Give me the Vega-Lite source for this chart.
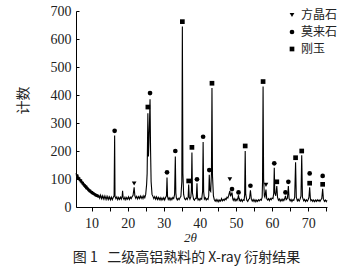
{
  "$schema": "https://vega.github.io/schema/vega-lite/v6.json",
  "width": 251,
  "height": 196,
  "autosize": {"type": "none"},
  "padding": {"left": 76, "top": 11, "right": 29, "bottom": 65},
  "background": "white",
  "config": {
    "view": {"stroke": null},
    "axis": {"grid": false, "domainColor": "black", "tickColor": "black", "labelColor": "#222", "labelFont": "Liberation Serif", "labelFontSize": 14, "titleColor": "#222", "domainWidth": 1}
  },
  "title": {"text": "图 1\u00a0\u00a0 二级高铝熟料的 X-ray 衍射结果", "orient": "bottom", "anchor": "middle", "font": "Noto Sans CJK SC", "fontSize": 14, "fontWeight": "normal", "color": "#222", "offset": 7, "dx": -15},
  "datasets": {
    "trace": [
      {"x":5.75,"y":122},{"x":5.9,"y":104},{"x":6.0,"y":118},{"x":6.15,"y":100},{"x":6.25,"y":116},{"x":6.4,"y":96},{"x":6.5,"y":108},{"x":6.65,"y":92},{"x":6.75,"y":106},{"x":6.9,"y":88},{"x":7.0,"y":100},{"x":7.15,"y":84},{"x":7.25,"y":99},{"x":7.4,"y":80},{"x":7.5,"y":92},{"x":7.65,"y":76},{"x":7.75,"y":90},{"x":7.9,"y":72},{"x":8.0,"y":85},{"x":8.15,"y":68},{"x":8.25,"y":82},{"x":8.4,"y":64},{"x":8.5,"y":78},{"x":8.65,"y":62},{"x":8.75,"y":76},{"x":8.9,"y":58},{"x":9.0,"y":71},{"x":9.15,"y":55},{"x":9.25,"y":68},{"x":9.4,"y":52},{"x":9.5,"y":64},{"x":9.65,"y":50},{"x":9.75,"y":62},{"x":9.9,"y":47},{"x":10.0,"y":59},{"x":10.15,"y":45},{"x":10.25,"y":57},{"x":10.4,"y":43},{"x":10.5,"y":54},{"x":10.65,"y":41},{"x":10.75,"y":52},{"x":10.9,"y":39},{"x":11.0,"y":50},{"x":11.15,"y":37},{"x":11.25,"y":48},{"x":11.4,"y":36},{"x":11.5,"y":46},{"x":11.65,"y":34},{"x":11.75,"y":45},{"x":11.9,"y":33},{"x":12.0,"y":43},{"x":12.25,"y":32},{"x":12.5,"y":42},{"x":12.75,"y":30},{"x":13.0,"y":40},{"x":13.25,"y":29},{"x":13.5,"y":39},{"x":13.75,"y":28},{"x":14.0,"y":38},{"x":14.25,"y":27},{"x":14.5,"y":37},{"x":14.75,"y":27},{"x":15.0,"y":36},{"x":15.25,"y":26},{"x":15.5,"y":35},{"x":15.75,"y":26},{"x":16.0,"y":34},{"x":16.25,"y":40},{"x":16.4,"y":255},{"x":16.5,"y":38},{"x":16.75,"y":30},{"x":17.0,"y":36},{"x":17.25,"y":26},{"x":17.5,"y":34},{"x":17.75,"y":27},{"x":18.0,"y":35},{"x":18.25,"y":28},{"x":18.5,"y":40},{"x":18.6,"y":58},{"x":18.75,"y":33},{"x":19.0,"y":27},{"x":19.25,"y":35},{"x":19.5,"y":26},{"x":19.75,"y":34},{"x":20.0,"y":28},{"x":20.25,"y":36},{"x":20.5,"y":27},{"x":20.75,"y":35},{"x":21.0,"y":30},{"x":21.25,"y":37},{"x":21.5,"y":42},{"x":21.8,"y":70},{"x":22.0,"y":40},{"x":22.25,"y":31},{"x":22.5,"y":38},{"x":22.75,"y":29},{"x":23.0,"y":37},{"x":23.25,"y":30},{"x":23.5,"y":39},{"x":23.75,"y":31},{"x":24.0,"y":38},{"x":24.25,"y":30},{"x":24.5,"y":40},{"x":24.75,"y":33},{"x":25.0,"y":45},{"x":25.25,"y":80},{"x":25.4,"y":120},{"x":25.6,"y":335},{"x":25.75,"y":180},{"x":25.9,"y":230},{"x":26.05,"y":300},{"x":26.2,"y":385},{"x":26.35,"y":200},{"x":26.5,"y":90},{"x":26.75,"y":45},{"x":27.0,"y":38},{"x":27.25,"y":30},{"x":27.5,"y":37},{"x":27.75,"y":28},{"x":28.0,"y":36},{"x":28.25,"y":27},{"x":28.5,"y":34},{"x":28.75,"y":26},{"x":29.0,"y":33},{"x":29.25,"y":25},{"x":29.5,"y":32},{"x":29.75,"y":26},{"x":30.0,"y":33},{"x":30.25,"y":25},{"x":30.5,"y":34},{"x":30.75,"y":40},{"x":30.9,"y":105},{"x":31.05,"y":38},{"x":31.25,"y":27},{"x":31.5,"y":33},{"x":31.75,"y":25},{"x":32.0,"y":32},{"x":32.25,"y":26},{"x":32.5,"y":34},{"x":32.75,"y":30},{"x":33.0,"y":45},{"x":33.2,"y":180},{"x":33.35,"y":50},{"x":33.5,"y":32},{"x":33.75,"y":25},{"x":34.0,"y":31},{"x":34.25,"y":26},{"x":34.5,"y":33},{"x":34.75,"y":38},{"x":35.0,"y":90},{"x":35.15,"y":645},{"x":35.3,"y":120},{"x":35.5,"y":45},{"x":35.75,"y":30},{"x":36.0,"y":26},{"x":36.25,"y":32},{"x":36.5,"y":27},{"x":36.75,"y":35},{"x":36.9,"y":80},{"x":37.05,"y":35},{"x":37.25,"y":28},{"x":37.5,"y":36},{"x":37.65,"y":60},{"x":37.8,"y":195},{"x":37.95,"y":50},{"x":38.25,"y":28},{"x":38.5,"y":24},{"x":38.75,"y":31},{"x":39.0,"y":30},{"x":39.2,"y":85},{"x":39.35,"y":32},{"x":39.5,"y":25},{"x":39.75,"y":30},{"x":40.0,"y":24},{"x":40.25,"y":31},{"x":40.5,"y":28},{"x":40.75,"y":55},{"x":40.9,"y":232},{"x":41.05,"y":55},{"x":41.25,"y":28},{"x":41.5,"y":33},{"x":41.75,"y":25},{"x":42.0,"y":30},{"x":42.25,"y":27},{"x":42.45,"y":40},{"x":42.6,"y":115},{"x":42.75,"y":60},{"x":43.0,"y":55},{"x":43.2,"y":120},{"x":43.35,"y":425},{"x":43.5,"y":110},{"x":43.75,"y":40},{"x":44.0,"y":26},{"x":44.25,"y":21},{"x":44.5,"y":27},{"x":44.75,"y":20},{"x":45.0,"y":26},{"x":45.25,"y":19},{"x":45.5,"y":25},{"x":45.75,"y":21},{"x":46.0,"y":30},{"x":46.25,"y":22},{"x":46.5,"y":27},{"x":46.75,"y":23},{"x":47.0,"y":30},{"x":47.25,"y":26},{"x":47.5,"y":35},{"x":47.75,"y":32},{"x":48.0,"y":42},{"x":48.3,"y":58},{"x":48.5,"y":38},{"x":48.7,"y":45},{"x":48.9,"y":52},{"x":49.1,"y":30},{"x":49.25,"y":24},{"x":49.5,"y":30},{"x":49.75,"y":22},{"x":50.0,"y":28},{"x":50.25,"y":23},{"x":50.5,"y":30},{"x":50.7,"y":42},{"x":50.9,"y":25},{"x":51.0,"y":28},{"x":51.25,"y":21},{"x":51.5,"y":27},{"x":51.75,"y":20},{"x":52.0,"y":26},{"x":52.25,"y":24},{"x":52.4,"y":45},{"x":52.55,"y":200},{"x":52.7,"y":45},{"x":53.0,"y":24},{"x":53.25,"y":20},{"x":53.5,"y":27},{"x":53.75,"y":30},{"x":54.0,"y":60},{"x":54.25,"y":28},{"x":54.5,"y":21},{"x":54.75,"y":27},{"x":55.0,"y":20},{"x":55.25,"y":26},{"x":55.5,"y":19},{"x":55.75,"y":25},{"x":56.0,"y":20},{"x":56.25,"y":26},{"x":56.5,"y":22},{"x":56.75,"y":27},{"x":57.0,"y":24},{"x":57.25,"y":35},{"x":57.35,"y":90},{"x":57.5,"y":430},{"x":57.65,"y":100},{"x":57.85,"y":40},{"x":58.0,"y":35},{"x":58.3,"y":62},{"x":58.5,"y":30},{"x":58.75,"y":25},{"x":59.0,"y":30},{"x":59.25,"y":23},{"x":59.5,"y":30},{"x":59.75,"y":26},{"x":60.0,"y":32},{"x":60.25,"y":30},{"x":60.45,"y":50},{"x":60.6,"y":140},{"x":60.75,"y":50},{"x":61.0,"y":40},{"x":61.3,"y":75},{"x":61.5,"y":35},{"x":61.75,"y":24},{"x":62.0,"y":29},{"x":62.25,"y":21},{"x":62.5,"y":27},{"x":62.75,"y":22},{"x":63.0,"y":28},{"x":63.25,"y":23},{"x":63.5,"y":30},{"x":63.7,"y":40},{"x":63.9,"y":26},{"x":64.0,"y":27},{"x":64.25,"y":32},{"x":64.5,"y":75},{"x":64.7,"y":30},{"x":65.0,"y":22},{"x":65.25,"y":27},{"x":65.5,"y":20},{"x":65.75,"y":26},{"x":66.0,"y":24},{"x":66.25,"y":35},{"x":66.5,"y":160},{"x":66.7,"y":35},{"x":67.0,"y":22},{"x":67.25,"y":27},{"x":67.5,"y":21},{"x":67.75,"y":28},{"x":68.0,"y":40},{"x":68.2,"y":185},{"x":68.4,"y":35},{"x":68.75,"y":22},{"x":69.0,"y":27},{"x":69.25,"y":20},{"x":69.5,"y":26},{"x":69.75,"y":21},{"x":70.0,"y":27},{"x":70.2,"y":35},{"x":70.4,"y":70},{"x":70.6,"y":30},{"x":70.75,"y":22},{"x":71.0,"y":26},{"x":71.25,"y":20},{"x":71.5,"y":25},{"x":71.75,"y":19},{"x":72.0,"y":25},{"x":72.25,"y":20},{"x":72.5,"y":26},{"x":72.75,"y":21},{"x":73.0,"y":25},{"x":73.25,"y":20},{"x":73.5,"y":26},{"x":73.75,"y":30},{"x":74.0,"y":65},{"x":74.2,"y":28},{"x":74.5,"y":20},{"x":74.75,"y":25},{"x":75.0,"y":19},{"x":75.2,"y":24}
    ],
    "peaks": [
      {"x":16.4,"y":272,"phase":"莫来石"},
      {"x":21.8,"y":84,"phase":"方晶石"},
      {"x":25.6,"y":357,"phase":"刚玉"},
      {"x":26.2,"y":407,"phase":"莫来石"},
      {"x":30.9,"y":124,"phase":"莫来石"},
      {"x":33.2,"y":200,"phase":"莫来石"},
      {"x":35.15,"y":662,"phase":"刚玉"},
      {"x":36.9,"y":93,"phase":"刚玉"},
      {"x":37.8,"y":213,"phase":"刚玉"},
      {"x":39.2,"y":99,"phase":"莫来石"},
      {"x":40.9,"y":251,"phase":"莫来石"},
      {"x":42.6,"y":132,"phase":"莫来石"},
      {"x":43.35,"y":442,"phase":"刚玉"},
      {"x":48.3,"y":99,"phase":"方晶石"},
      {"x":48.9,"y":64,"phase":"莫来石"},
      {"x":50.7,"y":52,"phase":"莫来石"},
      {"x":52.55,"y":218,"phase":"刚玉"},
      {"x":54.0,"y":76,"phase":"莫来石"},
      {"x":57.5,"y":448,"phase":"刚玉"},
      {"x":58.3,"y":79,"phase":"方晶石"},
      {"x":60.6,"y":156,"phase":"莫来石"},
      {"x":61.3,"y":90,"phase":"刚玉"},
      {"x":63.7,"y":52,"phase":"莫来石"},
      {"x":64.5,"y":90,"phase":"莫来石"},
      {"x":66.5,"y":176,"phase":"刚玉"},
      {"x":68.2,"y":200,"phase":"刚玉"},
      {"x":70.4,"y":120,"phase":"莫来石"},
      {"x":70.4,"y":85,"phase":"刚玉"},
      {"x":74.0,"y":111,"phase":"莫来石"},
      {"x":74.0,"y":81,"phase":"刚玉"}
    ]
  },
  "encoding": {
    "x": {"field": "x", "type": "quantitative", "scale": {"domain": [5.7, 75.2], "nice": false, "zero": false},
      "axis": {"title": "2θ", "titleFont": "Liberation Serif", "titleFontStyle": "italic", "titleFontWeight": "normal", "titleFontSize": 13, "titleX": 114, "titleY": 34, "titleBaseline": "alphabetic",
        "values": [10, 15, 20, 25, 30, 35, 40, 45, 50, 55, 60, 65, 70, 75], "labelExpr": "datum.value % 10 == 0 ? datum.label : ''", "tickSize": 4, "labelPadding": 5, "labelFlush": false, "labelOverlap": false}},
    "y": {"field": "y", "type": "quantitative", "scale": {"domain": [0, 700], "nice": false},
      "axis": {"title": "计数", "titleFont": "Noto Sans CJK SC", "titleFontWeight": "normal", "titleFontSize": 14, "titleX": -46, "titleY": 89,
        "values": [0, 100, 200, 300, 400, 500, 600, 700], "tickSize": -3, "labelPadding": 8, "labelOverlap": false, "labelFlush": false}}
  },
  "layer": [
    {
      "data": {"name": "trace"},
      "mark": {"type": "line", "color": "black", "strokeWidth": 1.1, "interpolate": "linear"}
    },
    {
      "data": {"name": "peaks"},
      "mark": {"type": "point", "filled": true, "color": "black", "size": 22, "opacity": 1},
      "encoding": {
        "shape": {"field": "phase", "type": "nominal",
          "scale": {"domain": ["方晶石", "莫来石", "刚玉"], "range": ["triangle-down", "circle", "square"]},
          "legend": {"title": null, "orient": "none", "legendX": 210, "legendY": -2, "labelFont": "Noto Sans CJK SC", "labelFontSize": 12, "labelColor": "#222", "symbolFillColor": "black", "symbolStrokeColor": "black", "symbolSize": 22, "rowPadding": 5, "labelOffset": 3, "labelLimit": 80}}
      }
    }
  ]
}
